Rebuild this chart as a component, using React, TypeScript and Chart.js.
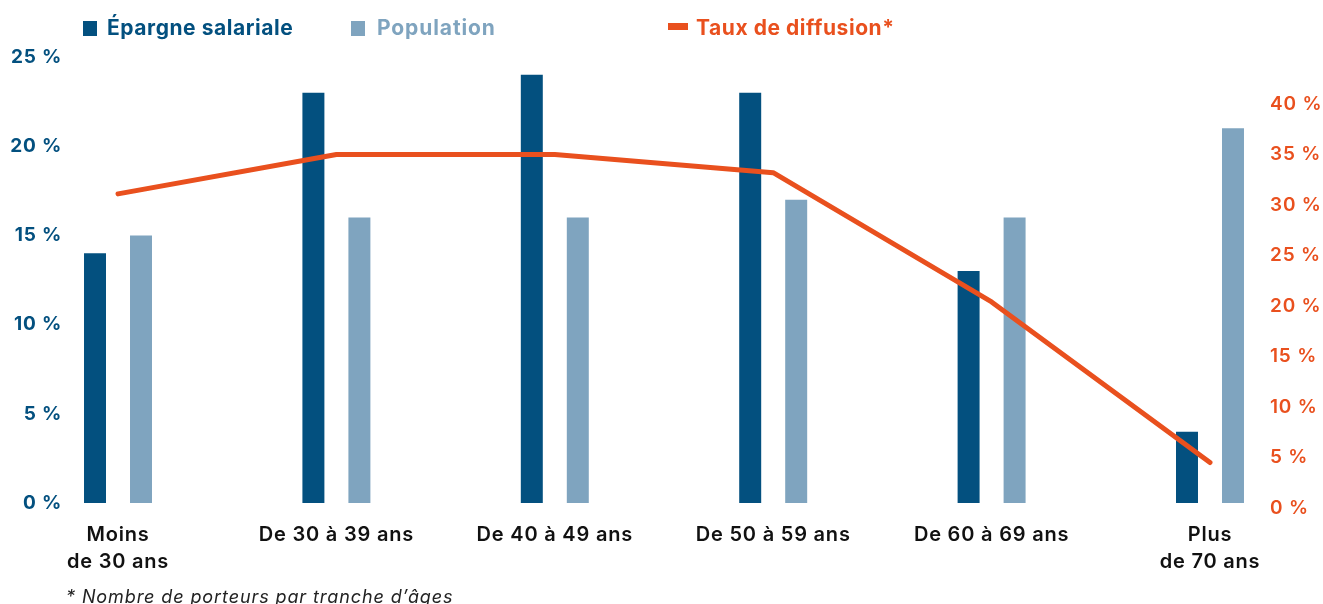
import React, { useEffect, useRef } from "react";
import { Chart, registerables } from "chart.js";

Chart.register(...registerables);

const categories: (string | string[])[] = [
  ["Moins", "de 30 ans"],
  "De 30 à 39 ans",
  "De 40 à 49 ans",
  "De 50 à 59 ans",
  "De 60 à 69 ans",
  ["Plus", "de 70 ans"],
];
const epargneSalariale = [14, 23, 24, 23, 13, 4];
const population = [15, 16, 16, 17, 16, 21];
const tauxDiffusion = [31.1, 35, 35, 33.2, 20.4, 4.5];
const leftTicks = [0, 5, 10, 15, 20, 25];
const rightTicks = [0, 5, 10, 15, 20, 25, 30, 35, 40];

const DARK = "#03507f";
const LIGHT = "#7fa4bf";
const ORANGE = "#e9501e";
const FONT = "Inter, sans-serif";

const spacingPlugin = {
  id: "letterSpacing",
  beforeDraw(chart: any) {
    (chart.ctx as any).letterSpacing = "0.8px";
  },
};

export default function App() {
  const ref = useRef<HTMLCanvasElement | null>(null);

  useEffect(() => {
    if (!ref.current) return;
    const pts = (arr: number[]) => arr.map((v, i) => ({ x: i, y: v }));
    const chart = new Chart(ref.current, {
      type: "bar",
      plugins: [spacingPlugin],
      data: {
        datasets: [
          {
            type: "line",
            label: "Taux de diffusion*",
            data: pts(tauxDiffusion),
            borderColor: ORANGE,
            backgroundColor: ORANGE,
            borderWidth: 5,
            pointRadius: 0,
            borderCapStyle: "round",
            borderJoinStyle: "round",
            tension: 0,
            yAxisID: "y1",
            clip: false,
            order: 0,
          } as any,
          {
            label: "Épargne salariale",
            data: pts(epargneSalariale),
            backgroundColor: DARK,
            yAxisID: "y",
            categoryPercentage: 0.4212,
            barPercentage: 0.478,
            order: 1,
          },
          {
            label: "Population",
            data: pts(population),
            backgroundColor: LIGHT,
            yAxisID: "y",
            categoryPercentage: 0.4212,
            barPercentage: 0.478,
            order: 1,
          },
        ],
      },
      options: {
        animation: false,
        responsive: true,
        maintainAspectRatio: false,
        layout: { padding: { top: 57, bottom: 21, left: 0, right: 0 } },
        plugins: { legend: { display: false }, tooltip: { enabled: false } },
        scales: {
          x: {
            type: "linear",
            offset: false,
            bounds: "data",
            min: -0.2198,
            max: 5.2427,
            grid: { display: false, drawTicks: false, offset: false },
            border: { display: false },
            afterBuildTicks: (scale: any) => {
              scale.ticks = categories.map((_, i) => ({ value: i }));
            },
            afterFit: (scale: any) => {
              scale.height = 80;
            },
            ticks: {
              autoSkip: false,
              maxRotation: 0,
              minRotation: 0,
              padding: 18,
              color: "#111111",
              font: { family: FONT, size: 20, weight: 600, lineHeight: 1.35 },
              callback: (v: any) => categories[v as number] as any,
            },
          },
          y: {
            position: "left",
            min: 0,
            max: 25,
            grid: { display: false, drawTicks: false },
            border: { display: false },
            afterBuildTicks: (scale: any) => {
              scale.ticks = leftTicks.map((v) => ({ value: v }));
            },
            afterFit: (scale: any) => {
              scale.width = 70;
            },
            ticks: {
              padding: 8,
              color: DARK,
              font: { family: FONT, size: 19, weight: 700 },
              callback: (v: any) => `${v} %`,
            },
          },
          y1: {
            position: "right",
            min: 0.495,
            max: 44.65,
            grid: { display: false, drawTicks: false },
            border: { display: false },
            afterBuildTicks: (scale: any) => {
              scale.ticks = rightTicks.map((v) => ({ value: v }));
            },
            afterFit: (scale: any) => {
              scale.width = 60;
            },
            ticks: {
              padding: 7,
              color: ORANGE,
              font: { family: FONT, size: 19, weight: 600 },
              callback: (v: any) => `${v} %`,
            },
          },
        },
      } as any,
    });
    return () => chart.destroy();
  }, []);

  const legendText: React.CSSProperties = {
    position: "absolute",
    top: 14,
    fontFamily: FONT,
    fontSize: 21,
    fontWeight: 700,
    letterSpacing: "0.55px",
    lineHeight: "28px",
    whiteSpace: "nowrap",
  };

  return (
    <div
      style={{
        position: "absolute",
        left: 0,
        top: 0,
        width: 1323,
        height: 604,
        overflow: "hidden",
        background: "#ffffff",
      }}
    >
      <canvas ref={ref} style={{ position: "absolute", left: 0, top: 0 }} />
      <div style={{ position: "absolute", left: 83, top: 21, width: 14, height: 15, background: DARK }} />
      <span style={{ ...legendText, left: 107, color: DARK }}>Épargne salariale</span>
      <div style={{ position: "absolute", left: 351, top: 21, width: 14, height: 15, background: LIGHT }} />
      <span style={{ ...legendText, left: 377, color: LIGHT, letterSpacing: "0.9px" }}>Population</span>
      <div style={{ position: "absolute", left: 668, top: 23, width: 20, height: 7, background: ORANGE }} />
      <span style={{ ...legendText, left: 696, color: ORANGE }}>Taux de diffusion*</span>
      <div
        style={{
          position: "absolute",
          left: 66,
          top: 585,
          fontFamily: FONT,
          fontSize: 18,
          fontStyle: "italic",
          letterSpacing: "0.9px",
          color: "#222222",
          whiteSpace: "nowrap",
          lineHeight: "24px",
        }}
      >
        * Nombre de porteurs par tranche d’âges
      </div>
    </div>
  );
}
